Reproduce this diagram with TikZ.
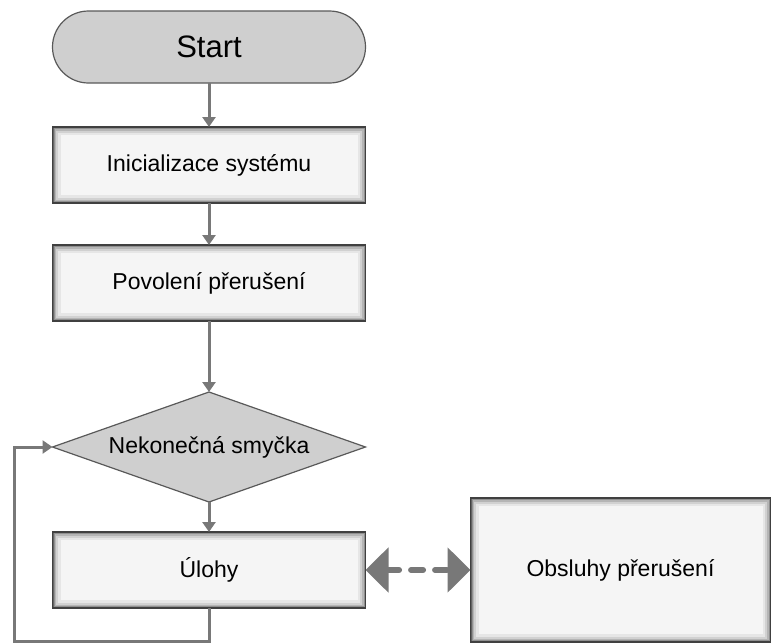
\documentclass[tikz,border=0pt]{standalone}
\usepackage{fontspec}
\setmainfont{Liberation Sans}
\usepackage{tikz}
\usetikzlibrary{positioning,arrows.meta,shapes.geometric,shapes.misc}

\begin{document}
\begin{tikzpicture}
    [x=1pt,y=-1pt,node distance=40pt,
     pg/.style={outer sep=0,inner sep=0,minimum width=313pt,
                font=\fontsize{23}{27}\selectfont},
     term/.style={pg,rounded rectangle,minimum height=72pt,
                  fill=black!19,draw=black!65,line width=1.2pt,
                  font=\fontsize{31}{35}\selectfont},
     dec/.style={pg,diamond,aspect=2.85,minimum height=110pt,
                 fill=black!19,draw=black!65,line width=1.2pt},
     proc/.style={pg,minimum height=76pt,fill=black!4,draw=black!75,
                  line width=1.5pt,
                  path picture={
                    \foreach \w/\o in {16/0.06,11/0.09,7/0.13,4/0.2,2/0.3}
                      \draw[black,opacity=\o,line width=\w pt]
                        (path picture bounding box.south west) rectangle
                        (path picture bounding box.north east);
                  }},
     flow/.style={draw=black!53,line width=3pt,
                  -{Triangle[width=13pt,length=10pt]}},
     irq/.style={draw=black!53,line width=6pt,line cap=round,
                 dash pattern=on 12pt off 12pt,
                 {Triangle[width=44pt,length=23pt,line cap=butt]}-{Triangle[width=44pt,length=23pt,line cap=butt]}}]
    \useasboundingbox (0,0) rectangle (776,643);

    \node[term] (start) at (209,47) {Start};
    \node[proc,below=44pt of start] (init) {Inicializace systému};
    \node[proc,below=42pt of init] (enirq) {Povolení přerušení};
    \node[dec,below=71pt of enirq] (loop) {Nekonečná smyčka};
    \node[proc,below=30pt of loop] (tasks) {Úlohy};
    \node[proc,right=105pt of tasks,minimum width=300pt,
          minimum height=144pt] (isr) {Obsluhy přerušení};

    \coordinate (back) at (14,641);

    \draw[flow] (start) -- (init);
    \draw[flow] (init) -- (enirq);
    \draw[flow] (enirq) -- (loop);
    \draw[flow] (loop) -- (tasks);
    \draw[flow] (tasks.south) |- (back) |- (loop.west);
    \draw[irq] (tasks) -- (isr);
\end{tikzpicture}
\end{document}
